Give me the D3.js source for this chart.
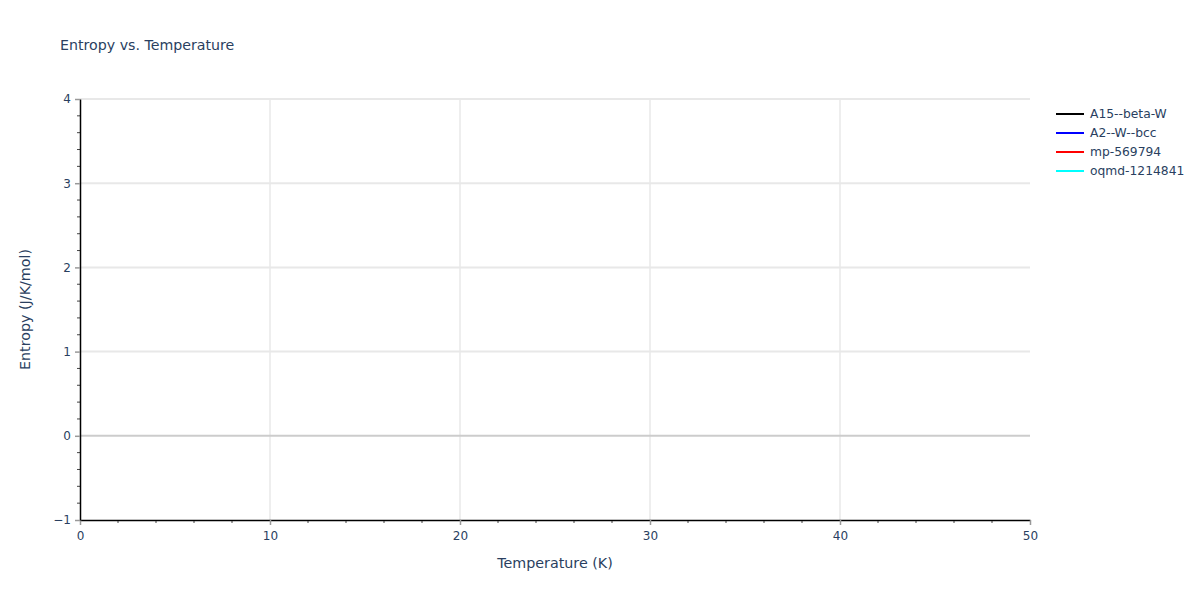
<!DOCTYPE html>
<html>
<head>
<meta charset="utf-8">
<script src="https://cdn.jsdelivr.net/npm/d3@7"></script>
<style>
  body { margin: 0; background: #fff; }
  text { font-family: "DejaVu Sans", verdana, arial, sans-serif; fill: #2a3f5f; }
</style>
</head>
<body>
<div id="chart"></div>
<script>
// series shown in the legend; no points fall inside the visible range
const seriesNames = ["A15--beta-W", "A2--W--bcc", "mp-569794", "oqmd-1214841"];
const seriesColors = ["#000000", "#0000ff", "#ff0000", "#00ffff"];
const temperatures = [];
const entropyValues = [[], [], [], []];
const xTicks = [0, 10, 20, 30, 40, 50];
const yTicks = [-1, 0, 1, 2, 3, 4];

const width = 1200;
const height = 600;
const margin = { top: 99, left: 80, bottom: 80, right: 170 };
const iwidth = width - margin.left - margin.right;
const iheight = height - margin.top - margin.bottom;

const svg = d3.select("#chart").append("svg")
  .attr("width", width)
  .attr("height", height);

svg.append("text")
  .attr("x", 60)
  .attr("y", 50)
  .style("font-size", "14.2px")
  .text("Entropy vs. Temperature");

const g = svg.append("g")
  .attr("transform", `translate(${margin.left},${margin.top})`);

const x = d3.scaleLinear().domain([0, 50]).range([0, iwidth]);
const y = d3.scaleLinear().domain([-1, 4]).range([iheight, 0]);

// grid
g.append("g").selectAll("line").data(xTicks.slice(1, -1)).enter().append("line")
  .attr("x1", (d) => x(d)).attr("x2", (d) => x(d))
  .attr("y1", 0).attr("y2", iheight)
  .attr("stroke", "#dddddd").attr("stroke-width", 1);

g.append("g").selectAll("line").data(yTicks.filter((d) => d !== 0 && d !== -1)).enter().append("line")
  .attr("x1", 0).attr("x2", iwidth)
  .attr("y1", (d) => y(d)).attr("y2", (d) => y(d))
  .attr("stroke", "#e8e8e8").attr("stroke-width", 2);

g.append("line")
  .attr("x1", 0).attr("x2", iwidth)
  .attr("y1", y(0)).attr("y2", y(0))
  .attr("stroke", "#cccccc").attr("stroke-width", 2);

// lines
const line = d3.line()
  .x((d, i) => x(temperatures[i]))
  .y((d) => y(d));

g.append("g").selectAll("path").data(entropyValues).enter().append("path")
  .attr("fill", "none")
  .attr("stroke", (d, i) => seriesColors[i])
  .attr("stroke-width", 2)
  .attr("d", (d) => line(d));

// minor ticks
const xMinor = d3.range(0, 50.001, 2).filter((d) => !xTicks.includes(d));
const yMinor = d3.range(-1, 4.001, 0.2).map((d) => +d.toFixed(1)).filter((d) => !yTicks.includes(d));

g.append("g").selectAll("line").data(xMinor).enter().append("line")
  .attr("x1", (d) => x(d)).attr("x2", (d) => x(d))
  .attr("y1", iheight).attr("y2", iheight + 3)
  .attr("stroke", "#444").attr("stroke-width", 1);

g.append("g").selectAll("line").data(yMinor).enter().append("line")
  .attr("x1", -3).attr("x2", 0)
  .attr("y1", (d) => y(d)).attr("y2", (d) => y(d))
  .attr("stroke", "#444").attr("stroke-width", 1);

// axes
const xAxis = g.append("g")
  .attr("transform", `translate(0, ${iheight})`)
  .call(d3.axisBottom(x).tickValues(xTicks).tickSize(5).tickPadding(6).tickSizeOuter(0));

const yAxis = g.append("g")
  .call(d3.axisLeft(y).tickValues(yTicks).tickSize(5).tickPadding(4).tickSizeOuter(0)
    .tickFormat((d) => d < 0 ? "\u2212" + Math.abs(d) : d));

[xAxis, yAxis].forEach((a) => {
  a.select(".domain").attr("stroke", "#000").attr("stroke-width", 1.5);
  a.selectAll(".tick line").attr("stroke", "#999").attr("stroke-width", 1.5);
  a.selectAll(".tick text")
    .style("font-family", "'DejaVu Sans', verdana, arial, sans-serif")
    .style("font-size", "12px")
    .attr("fill", "#2a3f5f");
});

svg.append("text")
  .attr("x", margin.left + iwidth / 2)
  .attr("y", 568)
  .attr("text-anchor", "middle")
  .style("font-size", "14.3px")
  .text("Temperature (K)");

svg.append("text")
  .attr("transform", `translate(30, ${margin.top + iheight / 2}) rotate(-90)`)
  .attr("text-anchor", "middle")
  .style("font-size", "14.3px")
  .text("Entropy (J/K/mol)");

// legend
const legend = svg.append("g").attr("transform", "translate(1056, 114)");
const items = legend.selectAll("g").data(seriesNames).enter().append("g")
  .attr("transform", (d, i) => `translate(0, ${i * 19})`);
items.append("line")
  .attr("x1", 0).attr("x2", 28)
  .attr("stroke", (d, i) => seriesColors[i])
  .attr("stroke-width", 2);
items.append("text")
  .attr("x", 34)
  .attr("y", 4)
  .style("font-size", "12.3px")
  .text((d) => d);
</script>
</body>
</html>
